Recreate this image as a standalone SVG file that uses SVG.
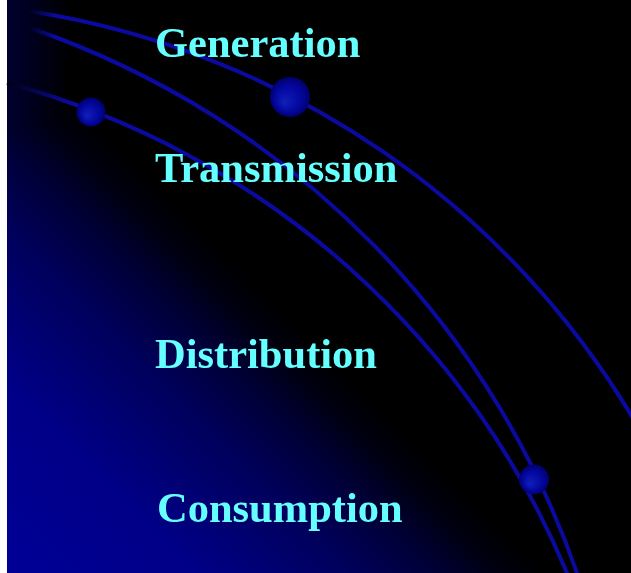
<svg xmlns="http://www.w3.org/2000/svg" width="631" height="573" viewBox="0 0 631 573">
  <defs>
    <linearGradient id="bg" gradientUnits="userSpaceOnUse" x1="7" y1="573" x2="276" y2="304">
      <stop offset="0" stop-color="#000096"/>
      <stop offset="0.35" stop-color="#000088"/>
      <stop offset="0.64" stop-color="#00005c"/>
      <stop offset="0.79" stop-color="#00003a"/>
      <stop offset="0.92" stop-color="#00000f"/>
      <stop offset="1" stop-color="#000000"/>
    </linearGradient>
    <linearGradient id="edge" gradientUnits="userSpaceOnUse" x1="7" y1="0" x2="70" y2="0">
      <stop offset="0" stop-color="#000030"/>
      <stop offset="1" stop-color="#000000"/>
    </linearGradient>
    <linearGradient id="fadeA" gradientUnits="userSpaceOnUse" x1="28" y1="0" x2="55" y2="0">
      <stop offset="0" stop-color="#0a0aa0" stop-opacity="0"/>
      <stop offset="1" stop-color="#0a0aa0"/>
    </linearGradient>
    <linearGradient id="fadeB" gradientUnits="userSpaceOnUse" x1="7" y1="0" x2="70" y2="0">
      <stop offset="0" stop-color="#000010"/>
      <stop offset="1" stop-color="#0a0aa0"/>
    </linearGradient>
    <radialGradient id="ball" cx="0.5" cy="0.5" r="0.5" fx="0.35" fy="0.65">
      <stop offset="0" stop-color="#1020b8"/>
      <stop offset="0.6" stop-color="#0508a2"/>
      <stop offset="1" stop-color="#000070"/>
    </radialGradient>
    <style>
      .arc { fill: none; stroke-width: 4; stroke-linecap: butt; }
      .label { font-family: "Liberation Serif", "Times New Roman", serif; font-weight: bold; font-size: 42.5px; fill: #66ffff; }
    </style>
  </defs>

  <g id="background">
    <rect x="0" y="0" width="631" height="573" fill="#ffffff"/>
    <rect x="7" y="0" width="624" height="573" fill="url(#bg)"/>
    <rect x="7" y="0" width="70" height="573" fill="url(#edge)" style="mix-blend-mode: lighten"/>
  </g>

  <g id="arcs">
    <path class="arc" stroke="url(#fadeA)" d="M 30 11.2 A 856 856 0 0 1 640 430.2"/>
    <path class="arc" stroke="url(#fadeA)" d="M 30 28 A 882.4 882.4 0 0 1 582.7 590"/>
    <path class="arc" stroke="url(#fadeB)" d="M 7 83 A 845.3 845.3 0 0 1 573.9 590"/>
  </g>

  <g id="spheres">
    <circle cx="290" cy="97" r="20" fill="url(#ball)"/>
    <circle cx="91" cy="112" r="14.5" fill="url(#ball)"/>
    <circle cx="534" cy="479.5" r="15" fill="url(#ball)"/>
  </g>

  <g id="generation"><text class="label" x="155" y="57">Generation</text></g>
  <g id="transmission"><text class="label" x="155" y="181.5">Transmission</text></g>
  <g id="distribution"><text class="label" x="155" y="368">Distribution</text></g>
  <g id="consumption"><text class="label" x="157" y="522">Consumption</text></g>
</svg>
